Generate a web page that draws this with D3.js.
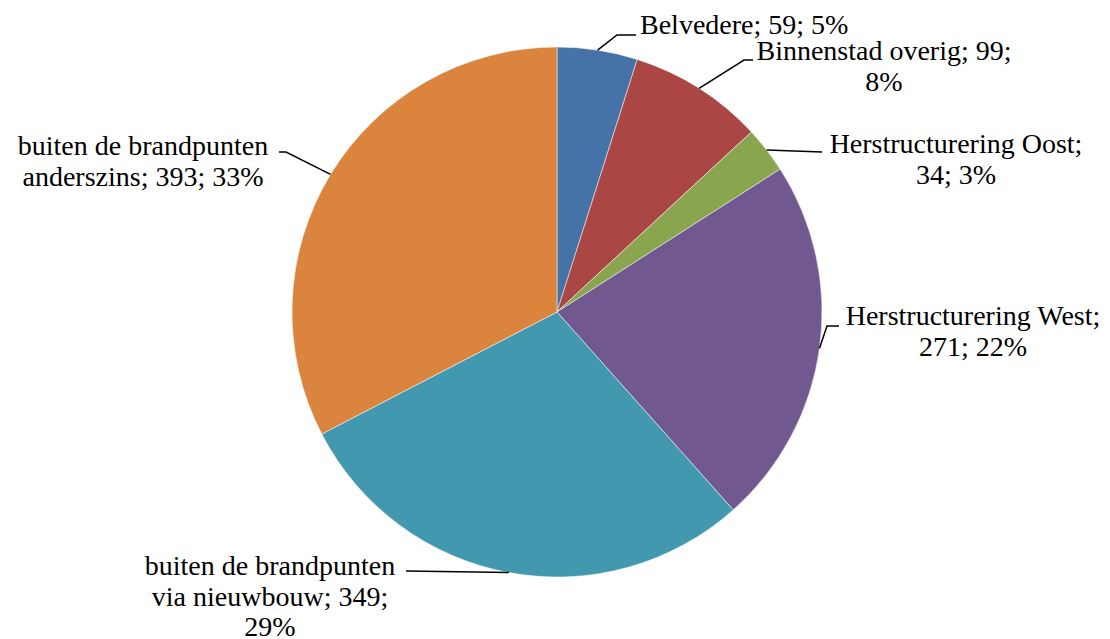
<!DOCTYPE html>
<html>
<head>
<meta charset="utf-8">
<script src="https://cdn.jsdelivr.net/npm/d3@7"></script>
<style>
  body { margin: 0; background: #fff; }
  #chart { width: 1110px; height: 639px; }
  text.lbl { font-family: "Liberation Serif", "Times New Roman", serif; font-size: 28px; fill: #000; }
  path.leader { fill: none; stroke: #000; stroke-width: 1.5px; }
</style>
</head>
<body>
<div id="chart"></div>
<script>
// data
const categories = ["Belvedere", "Binnenstad overig", "Herstructurering Oost", "Herstructurering West",
  "buiten de brandpunten via nieuwbouw", "buiten de brandpunten anderszins"];
const values = [59, 99, 34, 271, 349, 393];
const colors = ["#4572A7", "#AA4643", "#89A54E", "#71588F", "#4198AF", "#DB843D"];

// label placement (words per line, anchor, first baseline, leader elbow + end)
const lineWords = [[3], [3, 1], [2, 2], [2, 2], [3, 3, 1], [3, 3]];
const labelPos = [
  { x: 640, y: 34, anchor: "start", elbow: [617, 35], end: [636, 35] },
  { x: 884, y: 60, anchor: "middle", elbow: [744, 60], end: [753, 60] },
  { x: 956, y: 153, anchor: "middle", elbow: [822, 152], end: [822, 152] },
  { x: 973, y: 325, anchor: "middle", elbow: [827, 326], end: [839, 326] },
  { x: 270, y: 575, anchor: "middle", elbow: [406, 571], end: [406, 571] },
  { x: 143, y: 155, anchor: "middle", elbow: [286, 152], end: [279, 152] }
];

const width = 1110, height = 639;
const cx = 557, cy = 312, radius = 265;
const lineH = 30.5;

const svg = d3.select("#chart").append("svg")
  .attr("width", width).attr("height", height);

const total = d3.sum(values);
const data = categories.map((c, i) => ({ name: c, value: values[i], color: colors[i], i: i }));

const pie = d3.pie().sort(null).value(d => d.value);
const arc = d3.arc().innerRadius(0).outerRadius(radius);
const arcs = pie(data);

const g = svg.append("g").attr("transform", "translate(" + cx + "," + cy + ")");

g.selectAll("path.slice").data(arcs).enter()
  .append("path")
  .attr("class", "slice")
  .attr("d", arc)
  .attr("fill", d => d.data.color)
  .attr("stroke", "#fff")
  .attr("stroke-width", 0.5);

// leader lines from the slice's outer edge at mid-angle
svg.selectAll("path.leader").data(arcs).enter()
  .append("path")
  .attr("class", "leader")
  .attr("d", d => {
    const a = (d.startAngle + d.endAngle) / 2;
    const sx = cx + radius * Math.sin(a), sy = cy - radius * Math.cos(a);
    const p = labelPos[d.data.i];
    return "M" + sx + "," + sy + "L" + p.elbow[0] + "," + p.elbow[1] + "L" + p.end[0] + "," + p.end[1];
  });

// labels
arcs.forEach(d => {
  const i = d.data.i;
  const pct = Math.round(d.data.value / total * 100) + "%";
  const words = (d.data.name + "; " + d.data.value + "; " + pct).split(" ");
  const lines = [];
  let k = 0;
  lineWords[i].forEach(n => { lines.push(words.slice(k, k + n).join(" ")); k += n; });
  const p = labelPos[i];
  const t = svg.append("text").attr("class", "lbl").attr("text-anchor", p.anchor);
  lines.forEach((ln, j) => {
    t.append("tspan").attr("x", p.x).attr("y", p.y + j * lineH).text(ln);
  });
});
</script>
</body>
</html>
